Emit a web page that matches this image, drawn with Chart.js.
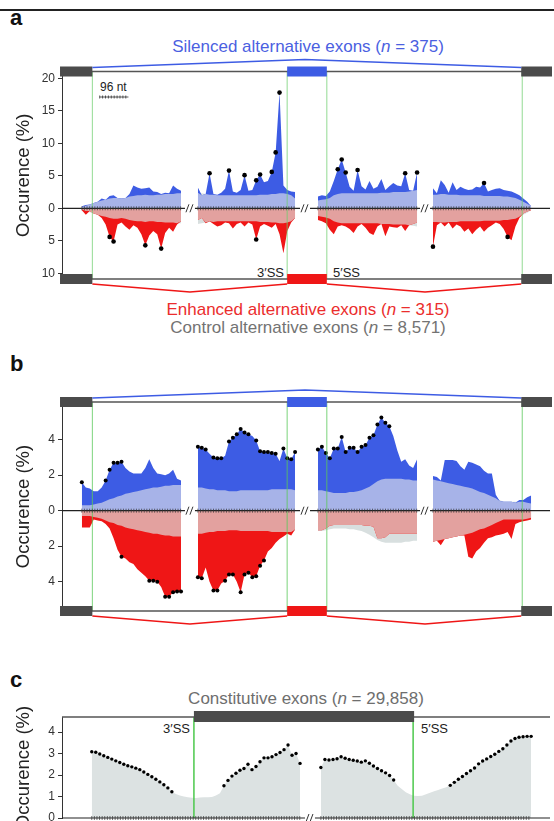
<!DOCTYPE html>
<html><head><meta charset="utf-8">
<script src="https://cdn.jsdelivr.net/npm/chart.js@4.4.0/dist/chart.umd.min.js"></script>
<style>
html,body{margin:0;padding:0;background:#fff;width:554px;height:821px;overflow:hidden;font-family:"Liberation Sans",Arial,sans-serif;position:relative;}
canvas{position:absolute;left:0;}
.t{position:absolute;white-space:nowrap;transform:translate(-50%,-50%);font-size:17px;}
.p{position:absolute;font-weight:bold;font-size:22px;color:#111;transform:translateY(-50%);}
.s{position:absolute;white-space:nowrap;font-size:13px;color:#222;transform:translateY(-50%);}
</style></head><body>
<div style="position:absolute;left:0;top:9px;width:554px;height:2px;background:#222"></div>
<div class="p" style="left:10px;top:18px">a</div>
<div class="t" style="left:308px;top:47px;color:rgb(75,95,225)">Silenced alternative exons (<i>n</i> = 375)</div>
<div class="s" style="left:100px;top:87px;font-size:12px">96 nt</div>
<div class="s" style="right:270px;top:272px">3′SS</div>
<div class="s" style="left:333px;top:272px">5′SS</div>
<div class="t" style="left:308px;top:310px;color:rgb(235,45,45)">Enhanced alternative exons (<i>n</i> = 315)</div>
<div class="t" style="left:308px;top:328px;color:rgb(115,115,115)">Control alternative exons (<i>n</i> = 8,571)</div>
<div class="p" style="left:10px;top:364px">b</div>
<div class="p" style="left:10px;top:680px">c</div>
<div class="t" style="left:306px;top:699px;color:rgb(110,110,110)">Constitutive exons (<i>n</i> = 29,858)</div>
<div class="s" style="right:364px;top:728px">3′SS</div>
<div class="s" style="left:421px;top:728px">5′SS</div>
<canvas id="cA" width="554" height="260" style="top:40px"></canvas>
<canvas id="cB" width="554" height="270" style="top:370px"></canvas>
<canvas id="cC" width="554" height="130" style="top:700px"></canvas>
<script>
// ================= DATA (occurrence %, one list per region segment) =================
const segmentsAB = ['Upstream exon 5′SS', 'Alternative exon 3′SS', 'Alternative exon 5′SS', 'Downstream exon 3′SS'];
const segmentsC = ['3′SS', '5′SS'];
const yTicksA = [-10, -5, 0, 5, 10, 15, 20];
const yTicksB = [-4, -2, 0, 2, 4];
const yTicksC = [0, 1, 2, 3, 4];

// Panel a
const silencedA = [
  [0.3,0.5,0.6,0.8,1.0,1.5,1.3,1.9,2.0,1.6,1.5,1.6,2.2,3.5,3.2,3.0,3.1,3.2,2.6,2.5,2.2,2.4,2.3,3.5,3.0,2.7],
  [3.2,2.0,2.2,5.4,2.2,2.1,2.4,3.0,5.8,2.6,2.4,2.8,5.1,2.7,2.8,4.3,5.2,4.0,4.2,5.6,8.6,17.8,3.5,2.8,2.6,2.5],
  [1.8,2.0,1.9,2.6,4.2,6.0,7.5,5.5,3.3,2.7,5.9,3.4,2.9,4.2,3.0,3.3,4.5,2.8,3.4,3.9,3.5,3.4,5.4,2.8,2.7,5.5],
  [3.1,2.3,4.3,3.6,2.4,4.0,2.8,3.3,3.0,2.8,2.9,3.3,3.2,3.9,2.6,2.8,3.0,3.1,2.8,2.7,2.6,2.3,2.0,1.5,1.0,0.3]
];
const enhancedA = [
  [0.3,1.0,0.4,0.8,1.0,1.5,2.5,4.4,5.1,2.5,2.2,2.8,3.3,2.6,3.0,4.0,5.7,4.2,3.5,4.0,6.2,3.8,3.0,3.6,2.5,2.0],
  [1.8,1.5,2.3,2.0,2.4,2.8,2.6,2.2,2.3,3.1,2.4,2.2,2.8,2.2,2.5,4.8,2.8,2.4,2.7,3.0,2.4,4.0,6.9,3.5,2.2,1.5],
  [1.8,2.0,2.3,3.3,4.0,2.8,2.6,2.8,3.2,3.8,2.8,2.4,3.0,3.8,4.1,2.8,2.4,4.3,2.8,2.9,3.0,2.6,3.5,2.6,2.4,2.2],
  [5.9,2.6,2.2,2.8,2.2,3.1,2.5,2.8,3.6,3.1,4.0,3.3,2.8,3.6,3.0,2.6,2.2,2.4,3.2,4.4,4.9,2.8,1.5,0.8,0.5,0.3]
];
const controlA = [
  [0.2,0.4,0.6,0.8,1.0,1.2,1.3,1.5,1.6,1.6,1.5,1.6,1.8,1.9,2.0,2.0,2.1,2.0,2.0,2.1,2.1,2.2,2.2,2.2,2.3,2.3],
  [2.4,2.3,2.2,2.1,2.1,2.0,2.0,2.0,2.0,2.0,2.0,2.0,2.0,2.0,2.0,2.0,2.1,2.1,2.1,2.2,2.2,2.3,2.3,2.2,2.0,1.5],
  [1.2,1.3,1.4,1.6,2.0,2.2,2.3,2.3,2.3,2.3,2.3,2.3,2.3,2.3,2.3,2.3,2.4,2.4,2.4,2.5,2.5,2.5,2.5,2.6,2.7,2.8],
  [2.1,2.1,2.2,2.2,2.1,2.1,2.1,2.0,2.0,2.0,2.0,2.0,2.0,1.9,1.9,1.9,1.9,1.9,1.8,1.8,1.7,1.6,1.3,1.0,0.7,0.3]
];
const sigSilencedA = [[], [3,8,12,15,16,19,20,21], [5,6,7,10,22,25], [13]];
const sigEnhancedA = [[7,8,16,20], [15], [], [0,19]];

// Panel b
const silencedB = [
  [1.6,1.3,1.25,1.1,1.1,1.3,1.7,2.3,2.7,2.7,2.75,2.4,2.2,2.1,2.1,2.1,2.4,2.9,2.4,2.1,2.05,2.0,2.1,2.3,1.8,1.7],
  [3.6,3.55,3.45,3.2,3.0,2.95,2.95,3.1,3.9,4.1,4.3,4.6,4.4,4.3,4.2,3.95,3.35,3.3,3.3,3.25,3.2,2.8,3.5,2.95,2.9,3.3],
  [3.45,3.6,3.25,2.95,3.5,3.5,4.15,3.3,3.55,3.55,3.3,3.6,3.7,4.1,4.25,4.85,5.25,4.95,4.75,4.2,3.4,2.75,2.9,2.55,2.4,2.9],
  [1.95,1.9,1.7,2.85,2.85,2.85,2.8,2.5,2.3,2.75,2.7,2.6,2.5,2.25,2.1,2.1,0.9,0.55,0.5,0.5,0.5,0.45,0.6,0.6,0.75,0.85]
];
const enhancedB = [
  [0.95,0.95,0.95,0.5,0.55,0.6,0.75,1.0,1.55,2.2,2.6,2.7,2.9,3.0,3.3,3.5,3.7,3.95,3.95,4.0,4.3,4.85,4.85,4.6,4.55,4.55],
  [3.75,3.8,3.2,4.0,4.5,4.5,4.1,3.95,3.6,3.6,4.0,4.6,3.6,3.5,3.75,3.7,3.1,2.8,2.3,2.1,1.8,1.6,1.45,1.3,1.4,1.05],
  [1.1,1.1,1.0,0.85,0.8,0.8,0.8,0.8,0.8,0.8,0.8,0.8,0.85,0.85,0.9,1.55,1.55,1.5,1.3,1.3,1.3,1.3,1.3,1.3,1.3,1.3],
  [1.75,1.7,1.95,1.6,1.55,1.5,1.45,1.4,1.4,2.6,2.7,2.3,2.1,1.8,1.55,1.5,1.4,1.35,1.3,1.2,1.6,0.75,0.65,0.6,0.55,0.5]
];
const controlB = [
  [0.3,0.3,0.3,0.35,0.4,0.45,0.55,0.65,0.7,0.8,0.85,0.95,1.0,1.05,1.1,1.15,1.2,1.25,1.3,1.3,1.35,1.4,1.4,1.45,1.45,1.45],
  [1.3,1.3,1.25,1.2,1.2,1.15,1.15,1.15,1.1,1.1,1.1,1.15,1.15,1.15,1.15,1.15,1.15,1.15,1.15,1.2,1.2,1.2,1.2,1.2,1.2,1.15],
  [1.15,1.15,1.1,1.05,1.0,1.0,1.0,1.0,1.05,1.05,1.1,1.15,1.25,1.35,1.5,1.65,1.75,1.8,1.8,1.8,1.8,1.8,1.75,1.75,1.7,1.7],
  [1.75,1.7,1.65,1.6,1.55,1.5,1.45,1.4,1.35,1.3,1.25,1.15,1.05,1.0,0.9,0.8,0.7,0.6,0.5,0.5,0.5,0.5,0.5,0.5,0.45,0.4]
];
const sigSilencedB = [[0,6,7,8,9,10], [0,1,2,4,5,6,8,9,10,11,12,13,15,16,17,18,19,20,22,23,24,25], [0,1,2,3,4,5,6,7,8,9,10,11,12,13,14,15,16,17,18], []];
const sigEnhancedB = [[10,17,18,19,21,22,23,24,25], [0,1,4,5,7,8,9,11,12,13,14,15,16,17], [], []];

// Panel c
const constitutiveC = [
  [3.08,3.06,2.98,2.90,2.82,2.74,2.66,2.58,2.50,2.43,2.38,2.32,2.25,2.14,2.03,1.92,1.80,1.68,1.55,1.40,1.22,
   1.12,1.05,1.0,0.97,0.94,0.93,0.95,0.97,0.97,0.98,1.05,1.15,
   1.5,1.75,1.95,2.08,2.22,2.3,2.5,2.25,2.4,2.62,2.8,2.8,2.85,2.95,3.05,3.18,3.4,2.92,3.0,2.54],
  [2.35,2.72,2.7,2.72,2.76,2.85,2.78,2.72,2.69,2.65,2.6,2.66,2.55,2.42,2.3,2.2,2.1,1.98,1.77,
   1.5,1.35,1.2,1.1,1.03,1.02,1.03,1.1,1.18,1.24,1.3,1.37,1.43,
   1.52,1.66,1.8,1.93,2.07,2.2,2.33,2.52,2.65,2.75,2.86,2.97,3.1,3.22,3.4,3.58,3.7,3.76,3.78,3.8,3.8]
];
const sigConstitutiveC = [
  [0,1,2,3,4,5,6,7,8,9,10,11,12,13,14,15,16,17,18,19,20,33,34,35,36,37,38,39,40,41,42,43,44,45,46,47,48,49,50,51,52],
  [0,1,2,3,4,5,6,7,8,9,10,11,12,13,14,15,16,17,18,32,33,34,35,36,37,38,39,40,41,42,43,44,45,46,47,48,49,50,51,52]
];

// ================= LAYOUT (map units along the x axis) =================
Chart.defaults.font.family = "'Liberation Sans', Arial, sans-serif";
const MAP_MAX = 492;
const SEG_AB = [[20,120],[137,235],[258,358],[374,473]];
const SEG_C = [[30,240],[261,473]];
const BLUE = '#3d5ce4', RED = '#ef1616', GREY = '#d8dfdf', LBLUE = '#a7b3e8', LRED = '#e3a19f', GREYBOX = '#4b4b4b';

function xAt(seg, i, n) { return seg[0] + (seg[1] - seg[0]) * i / (n - 1); }
function area(vals, seg, sign, color, order) {
  return { type: 'line', data: vals.map((v, i) => ({ x: xAt(seg, i, vals.length), y: sign * v })),
    borderColor: 'rgba(0,0,0,0)', borderWidth: 0, pointRadius: 0, fill: 'origin',
    backgroundColor: color, order: order, tension: 0 };
}
function dots(vals, sig, seg, sign, r) {
  return { type: 'line', showLine: false, data: sig.map(i => ({ x: xAt(seg, i, vals.length), y: sign * vals[i] })),
    pointRadius: r, pointBackgroundColor: '#000', pointBorderWidth: 0, borderColor: '#000', order: 0 };
}
// overlap of a series with the control series (drawn in the lighter tint)
function overlap(a, b) { return a.map((v, i) => Math.min(v, b[i])); }

function decor(cfg) {
  return {
    id: 'decor',
    afterDatasetsDraw(chart) {
      const { ctx, chartArea: ca, scales } = chart;
      const X = v => scales.x.getPixelForValue(v);
      const y0 = scales.y.getPixelForValue(0);
      ctx.save();
      ctx.strokeStyle = cfg.green; ctx.lineWidth = cfg.greenW;
      cfg.greens.forEach(g => { const p = X(g); ctx.beginPath(); ctx.moveTo(p, ca.top); ctx.lineTo(p, ca.bottom); ctx.stroke(); });
      ctx.strokeStyle = '#222'; ctx.lineWidth = 1.2;
      ctx.beginPath(); ctx.moveTo(ca.left, y0); ctx.lineTo(ca.right, y0); ctx.stroke();
      ctx.lineWidth = 0.7; ctx.strokeStyle = '#333';
      cfg.segs.forEach(([s, e]) => {
        for (let p = X(s); p <= X(e) + 0.1; p += 2.6) { ctx.beginPath(); ctx.moveTo(p, y0 - 2); ctx.lineTo(p, y0 + 2); ctx.stroke(); }
      });
      cfg.breaks.forEach(b => {
        const bx = X(b);
        ctx.fillStyle = '#fff'; ctx.fillRect(bx - 5, y0 - 2, 10, 4);
        ctx.strokeStyle = '#333'; ctx.lineWidth = 1;
        ctx.beginPath(); ctx.moveTo(bx - 4, y0 + 4); ctx.lineTo(bx - 1, y0 - 4); ctx.moveTo(bx, y0 + 4); ctx.lineTo(bx + 3, y0 - 4); ctx.stroke();
      });
      ctx.restore();
    },
    afterDraw(chart) {
      const { ctx, chartArea: ca, scales } = chart;
      const X = v => scales.x.getPixelForValue(v);
      ctx.save();
      if (cfg.kind === 'ab') {
        const rows = [[ca.top, BLUE, -1], [ca.bottom, RED, 1]];
        rows.forEach(([yy, col, dir]) => {
          ctx.strokeStyle = '#555'; ctx.lineWidth = 1.3;
          ctx.beginPath(); ctx.moveTo(X(-2), yy); ctx.lineTo(ca.right, yy); ctx.stroke();
          ctx.fillStyle = GREYBOX;
          ctx.fillRect(X(-2), yy - 5, X(30.6) - X(-2), 10);
          ctx.fillRect(X(463), yy - 5, ca.right - X(463) + 2, 10);
          ctx.fillStyle = col;
          ctx.fillRect(X(227), yy - 5, X(267) - X(227), 10);
          ctx.strokeStyle = col; ctx.lineWidth = 1.4;
          ctx.beginPath();
          if (dir < 0) {
            ctx.moveTo(X(30.6), yy - 4); ctx.lineTo(X(245), yy - 12); ctx.lineTo(X(463), yy - 4);
          } else {
            ctx.moveTo(X(30.6), yy + 5); ctx.lineTo(X(129), yy + 13); ctx.lineTo(X(227), yy + 5);
            ctx.moveTo(X(267), yy + 5); ctx.lineTo(X(366), yy + 13); ctx.lineTo(X(463), yy + 5);
          }
          ctx.stroke();
        });
        if (cfg.scaleBar) {
          const sy = 97 - cfg.top;
          ctx.strokeStyle = '#333'; ctx.lineWidth = 0.8;
          ctx.beginPath(); ctx.moveTo(X(38), sy); ctx.lineTo(X(67), sy); ctx.stroke();
          for (let p = X(38); p <= X(67) + 0.1; p += 2.9) { ctx.beginPath(); ctx.moveTo(p, sy - 1.5); ctx.lineTo(p, sy + 1.5); ctx.stroke(); }
        }
      } else {
        ctx.strokeStyle = '#555'; ctx.lineWidth = 1.3;
        ctx.beginPath(); ctx.moveTo(ca.left, ca.top); ctx.lineTo(ca.right, ca.top); ctx.stroke();
        ctx.fillStyle = GREYBOX;
        ctx.fillRect(X(133), ca.top - 6, X(355) - X(133), 11);
      }
      ctx.restore();
    }
  };
}

function yScale(ticks, min, max) {
  return {
    min: min, max: max,
    afterFit: s => { s.width = 62; },
    afterBuildTicks: s => { s.ticks = ticks.map(v => ({ value: v })); },
    ticks: { callback: v => String(Math.abs(v)), color: '#333', font: { size: 12 }, padding: 3 },
    grid: { display: true, drawOnChartArea: false, drawTicks: true, tickLength: 4, color: '#333' },
    border: { display: true, color: '#333', width: 1 },
    title: { display: true, text: 'Occurence (%)', color: '#222', font: { size: 18.5 }, padding: { top: 13, bottom: 0 } }
  };
}
function makeChart(id, datasets, ys, pad, cfg) {
  return new Chart(document.getElementById(id), {
    type: 'line',
    data: { datasets },
    options: {
      responsive: false, animation: false, events: [],
      layout: { padding: { left: 0, right: 0, top: pad[0], bottom: pad[1] } },
      plugins: { legend: { display: false }, tooltip: { enabled: false } },
      scales: { x: { type: 'linear', min: 0, max: MAP_MAX, display: false }, y: ys }
    },
    plugins: [decor(cfg)]
  });
}
function splitPanel(up, down, ctrl, sigUp, sigDown, r) {
  const ds = [];
  ctrl.forEach((v, s) => { ds.push(area(v, SEG_AB[s], 1, GREY, 4)); ds.push(area(v, SEG_AB[s], -1, GREY, 4)); });
  up.forEach((v, s) => ds.push(area(v, SEG_AB[s], 1, BLUE, 3)));
  down.forEach((v, s) => ds.push(area(v, SEG_AB[s], -1, RED, 3)));
  up.forEach((v, s) => ds.push(area(overlap(v, ctrl[s]), SEG_AB[s], 1, LBLUE, 2)));
  down.forEach((v, s) => ds.push(area(overlap(v, ctrl[s]), SEG_AB[s], -1, LRED, 2)));
  up.forEach((v, s) => ds.push(dots(v, sigUp[s], SEG_AB[s], 1, r)));
  down.forEach((v, s) => ds.push(dots(v, sigDown[s], SEG_AB[s], -1, r)));
  return ds;
}

// ----- Panel a -----
makeChart('cA', splitPanel(silencedA, enhancedA, controlA, sigSilencedA, sigEnhancedA, 2.3), yScale(yTicksA, -10.88, 21.05), [31.5, 21],
  { kind: 'ab', top: 40, scaleBar: true, segs: SEG_AB, breaks: [129, 245, 366], greens: [30.6, 227, 267, 464], green: 'rgba(110,205,110,0.75)', greenW: 1 });

// ----- Panel b -----
makeChart('cB', splitPanel(silencedB, enhancedB, controlB, sigSilencedB, sigEnhancedB, 2), yScale(yTicksB, -5.65, 6.12), [32, 29],
  { kind: 'ab', top: 370, scaleBar: false, segs: SEG_AB, breaks: [129, 245, 366], greens: [30.6, 227, 267, 464], green: 'rgba(90,200,90,0.8)', greenW: 1 });

// ----- Panel c -----
const dsC = [];
constitutiveC.forEach((v, s) => dsC.push(area(v, SEG_C[s], 1, '#dce2e2', 2)));
constitutiveC.forEach((v, s) => dsC.push(dots(v, sigConstitutiveC[s], SEG_C[s], 1, 1.7)));
makeChart('cC', dsC, yScale(yTicksC, 0, 4.70), [17, 12],
  { kind: 'c', top: 700, segs: SEG_C, breaks: [250], greens: [133, 354], green: '#4cc84c', greenW: 1.5 });
</script>
</body></html>
